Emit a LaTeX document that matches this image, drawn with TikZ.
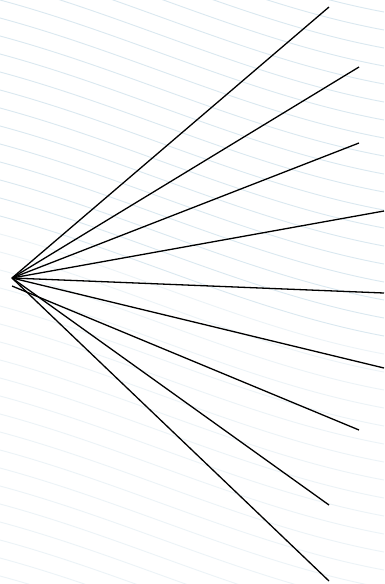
\documentclass[tikz,border=0pt]{standalone}
\begin{document}
\begin{tikzpicture}[
  x=1pt, y=-1pt,
  ray/.style={draw=black, line width=1.3pt},
  bgline/.style={draw={rgb,255:red,218;green,232;blue,240}, line width=0.9pt},
  bgfaint/.style={draw={rgb,255:red,236;green,243;blue,247}, line width=0.9pt}
]

% faint background stripes
\useasboundingbox (0,0) rectangle (384,584);
\fill[white] (0,0) rectangle (384,584);
\begin{scope}
\clip (0,0) rectangle (384,584);
\foreach \k in {-16,...,12}
  \draw[bgline] (0,18*\k) .. controls (130,18*\k+35) and (250,18*\k+95) .. (384,18*\k+120);
\foreach \k in {13,...,34}
  \draw[bgfaint] (0,18*\k) .. controls (130,18*\k+35) and (250,18*\k+95) .. (384,18*\k+120);
\end{scope}

% fan of rays
\coordinate (apex) at (12,278);
\coordinate (apexlow) at (12,286);
\coordinate (e1) at (329,7);
\coordinate (e2) at (359,67);
\coordinate (e3) at (359,143);
\coordinate (e4) at (384,211);
\coordinate (e5) at (384,293);
\coordinate (e6) at (384,368);
\coordinate (e7) at (359,430);
\coordinate (e8) at (329,505);
\coordinate (e9) at (329,581);

\draw[ray] (apex) -- (e1);
\draw[ray] (apex) -- (e2);
\draw[ray] (apex) -- (e3);
\draw[ray] (apex) -- (e4);
\draw[ray] (apex) -- (e5);
\draw[ray] (apex) -- (e6);
\draw[ray] (apexlow) -- (e7);
\draw[ray] (apex) -- (e8);
\draw[ray] (apex) -- (e9);

\end{tikzpicture}
\end{document}
